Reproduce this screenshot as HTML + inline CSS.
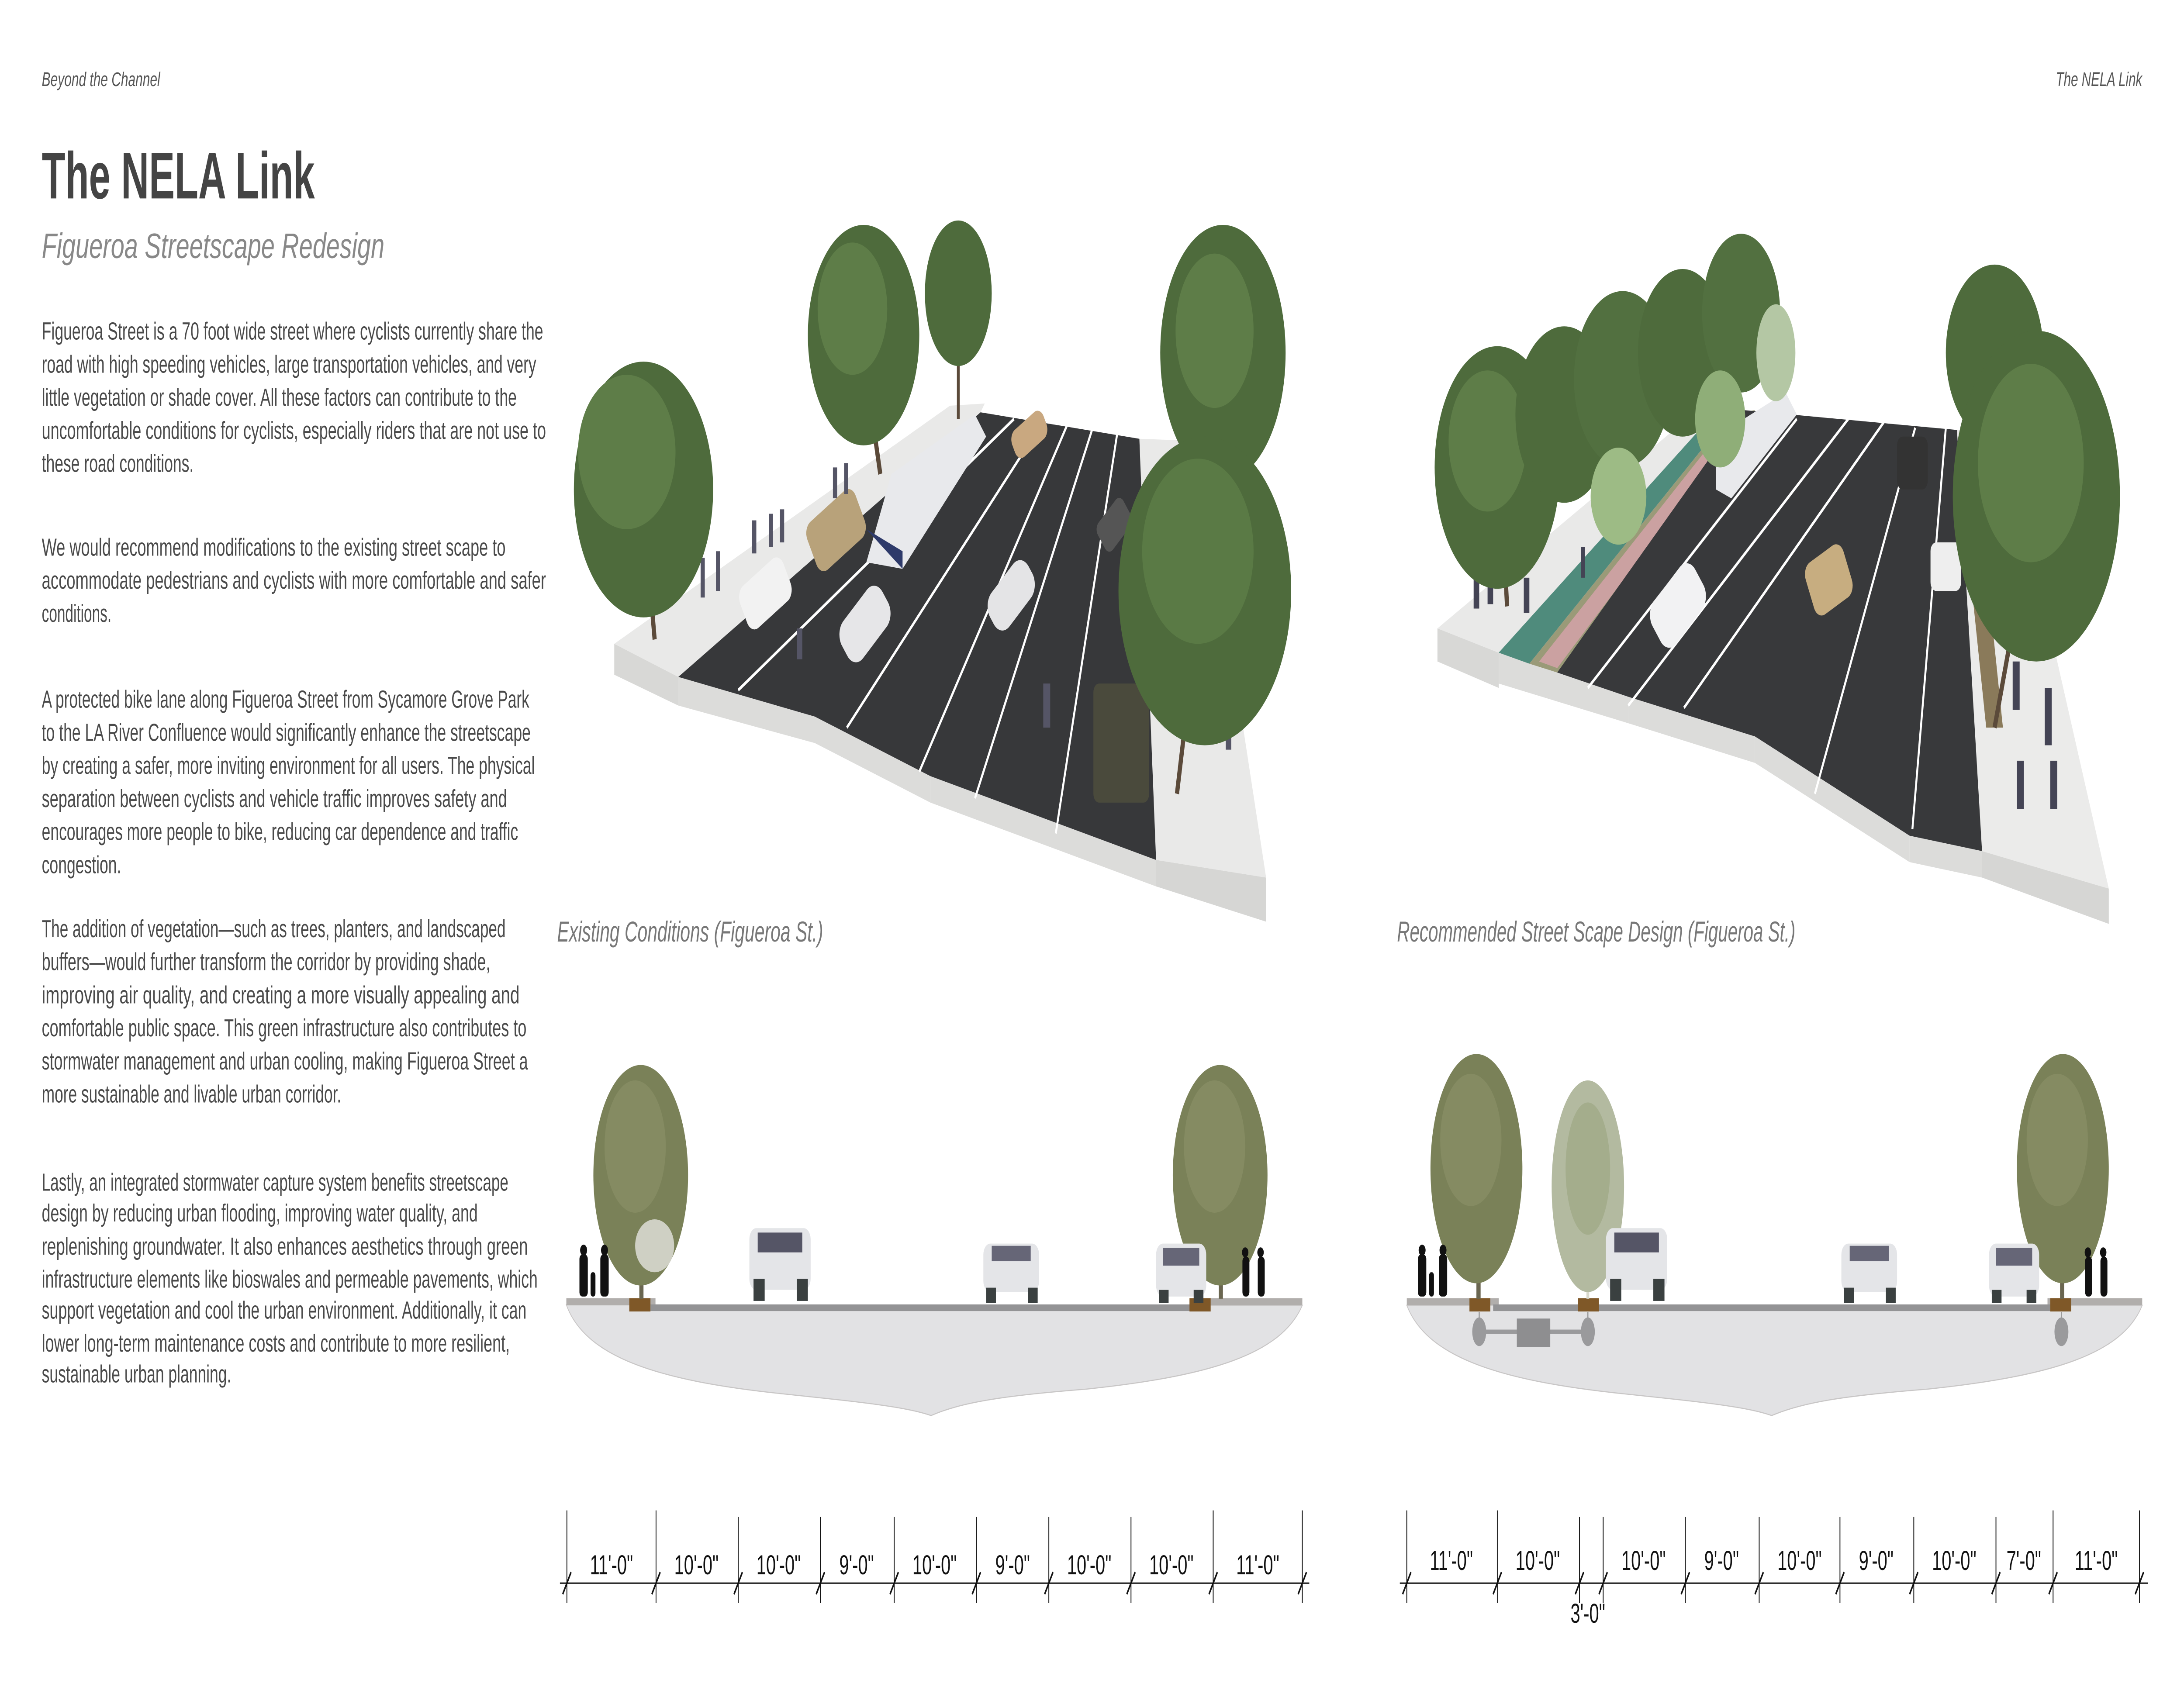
<!DOCTYPE html>
<html><head><meta charset="utf-8">
<style>
html,body{margin:0;padding:0;background:#fff;width:100vw;height:100vh;overflow:hidden;}
svg{display:block;width:100vw;height:100vh;}
.b{font-family:"Liberation Sans",sans-serif;font-size:11.2px;fill:#4a4a4a;}
.d{font-family:"Liberation Sans Narrow","Liberation Sans",sans-serif;font-size:12.5px;fill:#111;text-anchor:middle;}
</style></head><body>
<svg viewBox="0 0 1568 765.1" preserveAspectRatio="none" xmlns="http://www.w3.org/2000/svg">
<rect width="1568" height="766" fill="#fff"/>
<text x="30" y="39" font-family="Liberation Sans" font-style="italic" font-size="9" fill="#555" textLength="85" lengthAdjust="spacingAndGlyphs">Beyond the Channel</text>
<text x="1476" y="39" font-family="Liberation Sans" font-style="italic" font-size="9" fill="#555" textLength="62" lengthAdjust="spacingAndGlyphs">The NELA Link</text>
<text x="30" y="90" font-family="Liberation Sans" font-weight="bold" font-size="30" fill="#444" textLength="196" lengthAdjust="spacingAndGlyphs">The NELA Link</text>
<text x="30" y="117" font-family="Liberation Sans" font-style="italic" font-size="16" fill="#888" textLength="246" lengthAdjust="spacingAndGlyphs">Figueroa Streetscape Redesign</text>
<g class="b">
<text x="30" y="154" textLength="360" lengthAdjust="spacingAndGlyphs">Figueroa Street is a 70 foot wide street where cyclists currently share the</text>
<text x="30" y="169" textLength="355" lengthAdjust="spacingAndGlyphs">road with high speeding vehicles, large transportation vehicles, and very</text>
<text x="30" y="184" textLength="341" lengthAdjust="spacingAndGlyphs">little vegetation or shade cover. All these factors can contribute to the</text>
<text x="30" y="199" textLength="362" lengthAdjust="spacingAndGlyphs">uncomfortable conditions for cyclists, especially riders that are not use to</text>
<text x="30" y="214" textLength="109" lengthAdjust="spacingAndGlyphs">these road conditions.</text>
<text x="30" y="252" textLength="333" lengthAdjust="spacingAndGlyphs">We would recommend modifications to the existing street scape to</text>
<text x="30" y="267" textLength="362" lengthAdjust="spacingAndGlyphs">accommodate pedestrians and cyclists with more comfortable and safer</text>
<text x="30" y="282" textLength="50" lengthAdjust="spacingAndGlyphs">conditions.</text>
<text x="30" y="321" textLength="350" lengthAdjust="spacingAndGlyphs">A protected bike lane along Figueroa Street from Sycamore Grove Park</text>
<text x="30" y="336" textLength="351" lengthAdjust="spacingAndGlyphs">to the LA River Confluence would significantly enhance the streetscape</text>
<text x="30" y="351" textLength="354" lengthAdjust="spacingAndGlyphs">by creating a safer, more inviting environment for all users. The physical</text>
<text x="30" y="366" textLength="334" lengthAdjust="spacingAndGlyphs">separation between cyclists and vehicle traffic improves safety and</text>
<text x="30" y="381" textLength="342" lengthAdjust="spacingAndGlyphs">encourages more people to bike, reducing car dependence and traffic</text>
<text x="30" y="396" textLength="57" lengthAdjust="spacingAndGlyphs">congestion.</text>
<text x="30" y="425" textLength="333" lengthAdjust="spacingAndGlyphs">The addition of vegetation—such as trees, planters, and landscaped</text>
<text x="30" y="440" textLength="322" lengthAdjust="spacingAndGlyphs">buffers—would further transform the corridor by providing shade,</text>
<text x="30" y="455" textLength="343" lengthAdjust="spacingAndGlyphs">improving air quality, and creating a more visually appealing and</text>
<text x="30" y="470" textLength="348" lengthAdjust="spacingAndGlyphs">comfortable public space. This green infrastructure also contributes to</text>
<text x="30" y="485" textLength="349" lengthAdjust="spacingAndGlyphs">stormwater management and urban cooling, making Figueroa Street a</text>
<text x="30" y="500" textLength="215" lengthAdjust="spacingAndGlyphs">more sustainable and livable urban corridor.</text>
<text x="30" y="540" textLength="335" lengthAdjust="spacingAndGlyphs">Lastly, an integrated stormwater capture system benefits streetscape</text>
<text x="30" y="554" textLength="313" lengthAdjust="spacingAndGlyphs">design by reducing urban flooding, improving water quality, and</text>
<text x="30" y="569" textLength="349" lengthAdjust="spacingAndGlyphs">replenishing groundwater. It also enhances aesthetics through green</text>
<text x="30" y="584" textLength="356" lengthAdjust="spacingAndGlyphs">infrastructure elements like bioswales and permeable pavements, which</text>
<text x="30" y="598" textLength="348" lengthAdjust="spacingAndGlyphs">support vegetation and cool the urban environment. Additionally, it can</text>
<text x="30" y="613" textLength="336" lengthAdjust="spacingAndGlyphs">lower long-term maintenance costs and contribute to more resilient,</text>
<text x="30" y="627" textLength="136" lengthAdjust="spacingAndGlyphs">sustainable urban planning.</text>
</g>

<!-- ===== Existing axonometric ===== -->
<g>
<polygon points="441,292 487,307 487,320 441,306" fill="#d8d8d6"/>
<polygon points="487,307 585,325 585,337 487,320" fill="#dcdcda"/>
<polygon points="585,325 668,352 668,364 585,337" fill="#dcdcda"/>
<polygon points="668,352 830,390 830,402 668,364" fill="#dcdcda"/>
<polygon points="830,390 909,398 909,418 830,402" fill="#d6d6d4"/>
<polygon points="441,292 682,184 707,183 704,187 487,307" fill="#e9e9e8"/>
<polygon points="818,199 861,200 909,398 830,390" fill="#e9e9e8"/>
<polygon points="704,187 818,199 830,390 668,352 585,325 487,307" fill="#37383a"/>
<g stroke="#fff" stroke-width="1.4">
<line x1="728" y1="190" x2="530" y2="313"/>
<line x1="748" y1="192" x2="608" y2="330"/>
<line x1="766" y1="193" x2="660" y2="350"/>
<line x1="784" y1="195" x2="700" y2="362"/>
<line x1="802" y1="197" x2="758" y2="378"/>
</g>
<polygon points="640,215 700,188 708,198 648,258 622,255" fill="#e8e9ec"/>
<polygon points="622,240 648,258 648,250" fill="#2e3a6a"/>
<rect x="580" y="228" width="40" height="25" rx="6" fill="#b8a27a" transform="rotate(-30 600 240)"/>
<rect x="532" y="258" width="36" height="22" rx="6" fill="#f2f2f2" transform="rotate(-30 550 270)"/>
<rect x="602" y="272" width="38" height="22" rx="8" fill="#e6e6e8" transform="rotate(-40 621 283)"/>
<rect x="708" y="260" width="36" height="20" rx="8" fill="#e4e4e6" transform="rotate(-40 726 270)"/>
<rect x="726" y="190" width="26" height="14" rx="5" fill="#c9a880" transform="rotate(-30 739 197)"/>
<rect x="788" y="230" width="24" height="16" rx="4" fill="#555" transform="rotate(-40 800 238)"/>
<rect x="785" y="310" width="40" height="54" rx="4" fill="#4a4a3c"/>
<g fill="#556">
<rect x="503" y="253" width="3" height="18"/><rect x="514" y="250" width="3" height="18"/>
<rect x="540" y="236" width="3" height="15"/><rect x="552" y="233" width="3" height="15"/>
<rect x="560" y="231" width="3" height="15"/><rect x="598" y="212" width="3" height="14"/>
<rect x="606" y="210" width="3" height="14"/><rect x="572" y="285" width="4" height="14"/>
<rect x="749" y="310" width="5" height="20"/><rect x="880" y="320" width="4" height="20"/>
</g>
<g>
<line x1="470" y1="290" x2="462" y2="230" stroke="#5b4a3a" stroke-width="3"/>
<ellipse cx="462" cy="222" rx="50" ry="58" fill="#4e6b3c"/>
<ellipse cx="450" cy="205" rx="35" ry="35" fill="#5e7d48"/>
<line x1="632" y1="215" x2="622" y2="170" stroke="#5b4a3a" stroke-width="3"/>
<ellipse cx="620" cy="152" rx="40" ry="50" fill="#4e6b3c"/>
<ellipse cx="612" cy="140" rx="25" ry="30" fill="#5e7d48"/>
<line x1="688" y1="190" x2="688" y2="150" stroke="#5b4a3a" stroke-width="2"/>
<ellipse cx="688" cy="133" rx="24" ry="33" fill="#4e6b3c"/>
<ellipse cx="878" cy="160" rx="45" ry="58" fill="#4e6b3c"/>
<ellipse cx="872" cy="150" rx="28" ry="35" fill="#5e7d48"/>
<line x1="845" y1="360" x2="858" y2="290" stroke="#5b4a3a" stroke-width="3"/>
<ellipse cx="865" cy="268" rx="62" ry="70" fill="#4e6b3c"/>
<ellipse cx="860" cy="250" rx="40" ry="42" fill="#5a7a45"/>
</g>
</g>

<!-- ===== Recommended axonometric ===== -->
<g>
<polygon points="1032,285 1076,296 1076,312 1032,300" fill="#d8d8d6"/>
<polygon points="1076,296 1169,316 1169,328 1076,310" fill="#dcdcda"/>
<polygon points="1169,316 1260,334 1260,346 1169,328" fill="#dcdcda"/>
<polygon points="1260,334 1371,379 1371,391 1260,346" fill="#dcdcda"/>
<polygon points="1371,379 1423,386 1423,398 1371,391" fill="#dcdcda"/>
<polygon points="1423,386 1514,403 1514,419 1423,398" fill="#d6d6d4"/>
<polygon points="1032,285 1230,180 1245,182 1076,296" fill="#e9e9e8"/>
<polygon points="1076,296 1230,188 1242,188 1098,301" fill="#4f8b7c"/>
<polygon points="1098,301 1242,188 1260,186 1118,305" fill="#9a9a78"/>
<polygon points="1105,300 1230,200 1245,196 1118,303" fill="#d7a3ab" opacity="0.8"/>
<polygon points="1405,195 1440,197 1514,403 1423,386" fill="#ebebea"/>
<polygon points="1408,220 1420,220 1438,330 1426,330" fill="#8a7a5a"/>
<polygon points="1252,186 1405,195 1423,386 1371,379 1260,334 1169,316 1118,305" fill="#38393b"/>
<g stroke="#fff" stroke-width="1.4">
<line x1="1290" y1="190" x2="1140" y2="312"/>
<line x1="1327" y1="190" x2="1169" y2="320"/>
<line x1="1353" y1="191" x2="1209" y2="321"/>
<line x1="1375" y1="194" x2="1303" y2="360"/>
<line x1="1397" y1="194" x2="1373" y2="376"/>
</g>
<polygon points="1232,198 1282,178 1290,188 1243,226 1232,222" fill="#e8e9ec"/>
<rect x="1185" y="262" width="40" height="25" rx="8" fill="#f2f2f3" transform="rotate(-40 1205 275)"/>
<rect x="1298" y="250" width="30" height="26" rx="6" fill="#c7ad80" transform="rotate(-25 1313 263)"/>
<rect x="1362" y="198" width="22" height="24" rx="4" fill="#333"/>
<rect x="1386" y="246" width="22" height="22" rx="4" fill="#eee"/>
<g fill="#445">
<rect x="1058" y="258" width="4" height="18"/><rect x="1068" y="256" width="4" height="18"/>
<rect x="1094" y="262" width="4" height="16"/><rect x="1135" y="248" width="3" height="14"/>
<rect x="1448" y="345" width="5" height="22"/><rect x="1468" y="312" width="5" height="26"/>
<rect x="1472" y="345" width="5" height="22"/><rect x="1445" y="300" width="5" height="22"/>
</g>
<g>
<line x1="1082" y1="275" x2="1078" y2="225" stroke="#5b4a3a" stroke-width="3"/>
<ellipse cx="1075" cy="212" rx="45" ry="55" fill="#4e6b3c"/>
<ellipse cx="1068" cy="200" rx="28" ry="32" fill="#5e7d48"/>
<ellipse cx="1123" cy="188" rx="35" ry="40" fill="#4e6b3c"/>
<ellipse cx="1165" cy="172" rx="35" ry="40" fill="#527040"/>
<ellipse cx="1208" cy="160" rx="32" ry="38" fill="#4e6b3c"/>
<ellipse cx="1250" cy="142" rx="28" ry="36" fill="#527040"/>
<ellipse cx="1235" cy="190" rx="18" ry="22" fill="#8fae78"/>
<ellipse cx="1275" cy="160" rx="14" ry="22" fill="#b4c7a4"/>
<ellipse cx="1162" cy="225" rx="20" ry="22" fill="#9dbb85"/>
<ellipse cx="1432" cy="160" rx="35" ry="40" fill="#4e6b3c"/>
<line x1="1432" y1="330" x2="1452" y2="260" stroke="#5b4a3a" stroke-width="3"/>
<ellipse cx="1462" cy="225" rx="60" ry="75" fill="#4e6b3c"/>
<ellipse cx="1458" cy="210" rx="38" ry="45" fill="#5e7d48"/>
</g>
</g>

<text x="400" y="427" font-family="Liberation Sans" font-style="italic" font-size="13" fill="#777" textLength="191" lengthAdjust="spacingAndGlyphs">Existing Conditions (Figueroa St.)</text>
<text x="1003" y="427" font-family="Liberation Sans" font-style="italic" font-size="13" fill="#777" textLength="286" lengthAdjust="spacingAndGlyphs">Recommended Street Scape Design (Figueroa St.)</text>

<!-- ===== Section 1 ===== -->
<g>
<path d="M406.6,591.8 C420,615 470,626 560,632 C620,636 650,638 668.5,642 C690,636 720,633 780,630 C870,624 920,614 935,592 Z" fill="#e2e2e4" stroke="#c8c6c6" stroke-width="0.5"/>
<rect x="406.6" y="588.8" width="64" height="3" fill="#b1aeac"/>
<rect x="866" y="588.8" width="69" height="3" fill="#b1aeac"/>
<rect x="467" y="591.6" width="400" height="3" fill="#939395"/>
<rect x="451.8" y="588.8" width="15.2" height="6" fill="#7f5828"/>
<rect x="854" y="588.8" width="15.2" height="6" fill="#7f5828"/>
<rect x="459" y="540" width="3" height="49" fill="#6a6650"/>
<ellipse cx="460" cy="533" rx="34" ry="50" fill="#7a8158"/>
<ellipse cx="456" cy="520" rx="22" ry="30" fill="#858b62"/>
<ellipse cx="470" cy="565" rx="14" ry="12" fill="#cfd0c4"/>
<rect x="875" y="540" width="3" height="49" fill="#6a6650"/>
<ellipse cx="876" cy="533" rx="34" ry="50" fill="#7a8158"/>
<ellipse cx="872" cy="520" rx="22" ry="30" fill="#858b62"/>
<rect x="538" y="557" width="44" height="28" rx="5" fill="#e4e5e8"/><rect x="544" y="559" width="32" height="9" fill="#556"/><rect x="541" y="580" width="8" height="10" fill="#3a4040"/><rect x="572" y="580" width="8" height="10" fill="#3a4040"/>
<rect x="706" y="564" width="40" height="22" rx="5" fill="#e4e5e8"/><rect x="712" y="565" width="28" height="7" fill="#667"/><rect x="708" y="584" width="7" height="7" fill="#3a4040"/><rect x="738" y="584" width="7" height="7" fill="#3a4040"/>
<rect x="830" y="564" width="36" height="24" rx="5" fill="#e4e5e8"/><rect x="835" y="566" width="26" height="8" fill="#667"/><rect x="832" y="585" width="7" height="6" fill="#3a4040"/><rect x="857" y="585" width="7" height="6" fill="#3a4040"/>
<g fill="#111">
<rect x="416" y="569" width="6" height="19" rx="2"/><circle cx="419" cy="567" r="2.5"/>
<rect x="424" y="577" width="3.5" height="11" rx="1.5"/>
<rect x="431" y="569" width="6" height="19" rx="2"/><circle cx="434" cy="567" r="2.5"/>
<rect x="892" y="570" width="5" height="18" rx="2"/><circle cx="894" cy="568" r="2.3"/>
<rect x="903" y="570" width="5" height="18" rx="2"/><circle cx="905" cy="568" r="2.3"/>
</g>
</g>

<!-- ===== Section 2 ===== -->
<g>
<path d="M1010,592 C1024,615 1074,626 1164,632 C1224,636 1254,638 1272,642 C1294,636 1324,633 1384,630 C1474,624 1524,614 1538,592 Z" fill="#e2e2e4" stroke="#c8c6c6" stroke-width="0.5"/>
<rect x="1010" y="588.8" width="66" height="3" fill="#b1aeac"/>
<rect x="1470" y="588.8" width="68" height="3" fill="#b1aeac"/>
<rect x="1072" y="591.6" width="400" height="3" fill="#939395"/>
<rect x="1055" y="588.8" width="15" height="6" fill="#7f5828"/>
<rect x="1133" y="588.8" width="15" height="6" fill="#7f5828"/>
<rect x="1472" y="588.8" width="15" height="6" fill="#7f5828"/>
<line x1="1062" y1="595" x2="1062" y2="600" stroke="#999" stroke-width="0.8"/>
<line x1="1140" y1="595" x2="1140" y2="600" stroke="#999" stroke-width="0.8"/>
<line x1="1480" y1="595" x2="1480" y2="600" stroke="#999" stroke-width="0.8"/>
<rect x="1062" y="603" width="78" height="2" fill="#9a9a9c"/>
<ellipse cx="1062" cy="604" rx="5" ry="6.5" fill="#9a9a9c"/>
<ellipse cx="1140" cy="604" rx="5" ry="6.5" fill="#9a9a9c"/>
<rect x="1089" y="598" width="24" height="13" fill="#8e8e90"/>
<ellipse cx="1480" cy="604" rx="5" ry="6.5" fill="#9a9a9c"/>
<rect x="1060" y="540" width="3" height="49" fill="#6a6650"/>
<ellipse cx="1060" cy="530" rx="33" ry="52" fill="#7a8158"/>
<ellipse cx="1056" cy="517" rx="22" ry="30" fill="#858b62"/>
<rect x="1139" y="550" width="2" height="39" fill="#d8d8cc"/>
<ellipse cx="1140" cy="538" rx="26" ry="48" fill="#b3baa0"/>
<ellipse cx="1140" cy="530" rx="16" ry="30" fill="#a4ad8c"/>
<rect x="1479" y="540" width="3" height="49" fill="#6a6650"/>
<ellipse cx="1481" cy="530" rx="33" ry="52" fill="#7a8158"/>
<ellipse cx="1477" cy="517" rx="22" ry="30" fill="#858b62"/>
<rect x="1153" y="557" width="44" height="28" rx="5" fill="#e4e5e8"/><rect x="1159" y="559" width="32" height="9" fill="#556"/><rect x="1156" y="580" width="8" height="10" fill="#3a4040"/><rect x="1187" y="580" width="8" height="10" fill="#3a4040"/>
<rect x="1322" y="564" width="40" height="22" rx="5" fill="#e4e5e8"/><rect x="1328" y="565" width="28" height="7" fill="#667"/><rect x="1324" y="584" width="7" height="7" fill="#3a4040"/><rect x="1354" y="584" width="7" height="7" fill="#3a4040"/>
<rect x="1428" y="564" width="36" height="24" rx="5" fill="#e4e5e8"/><rect x="1433" y="566" width="26" height="8" fill="#667"/><rect x="1430" y="585" width="7" height="6" fill="#3a4040"/><rect x="1455" y="585" width="7" height="6" fill="#3a4040"/>
<g fill="#111">
<rect x="1018" y="569" width="6" height="19" rx="2"/><circle cx="1021" cy="567" r="2.5"/>
<rect x="1026" y="577" width="3.5" height="11" rx="1.5"/>
<rect x="1033" y="569" width="6" height="19" rx="2"/><circle cx="1036" cy="567" r="2.5"/>
<rect x="1497" y="570" width="5" height="18" rx="2"/><circle cx="1499" cy="568" r="2.3"/>
<rect x="1508" y="570" width="5" height="18" rx="2"/><circle cx="1510" cy="568" r="2.3"/>
</g>
</g>

<!-- ===== Dimension lines ===== -->
<g stroke="#111" stroke-width="0.6">
<line x1="402" y1="718" x2="940" y2="718"/>
<line x1="407" y1="685" x2="407" y2="727"/><line x1="471" y1="685" x2="471" y2="727"/>
<line x1="530" y1="688" x2="530" y2="727"/><line x1="589" y1="688" x2="589" y2="727"/>
<line x1="642" y1="688" x2="642" y2="727"/><line x1="701" y1="688" x2="701" y2="727"/>
<line x1="753" y1="688" x2="753" y2="727"/><line x1="812" y1="688" x2="812" y2="727"/>
<line x1="871" y1="685" x2="871" y2="727"/><line x1="935" y1="685" x2="935" y2="727"/>
<line x1="1005" y1="718" x2="1542" y2="718"/>
<line x1="1010" y1="685" x2="1010" y2="727"/><line x1="1075" y1="685" x2="1075" y2="727"/>
<line x1="1134" y1="688" x2="1134" y2="727"/><line x1="1151" y1="688" x2="1151" y2="727"/>
<line x1="1210" y1="688" x2="1210" y2="727"/><line x1="1263" y1="688" x2="1263" y2="727"/>
<line x1="1321" y1="688" x2="1321" y2="727"/><line x1="1374" y1="688" x2="1374" y2="727"/>
<line x1="1433" y1="688" x2="1433" y2="727"/><line x1="1474" y1="685" x2="1474" y2="727"/>
<line x1="1536" y1="685" x2="1536" y2="727"/>
</g>
<g stroke="#111" stroke-width="1">
<path d="M404,723 L410,713 M468,723 L474,713 M527,723 L533,713 M586,723 L592,713 M639,723 L645,713 M698,723 L704,713 M750,723 L756,713 M809,723 L815,713 M868,723 L874,713 M932,723 L938,713"/>
<path d="M1007,723 L1013,713 M1072,723 L1078,713 M1131,723 L1137,713 M1148,723 L1154,713 M1207,723 L1213,713 M1260,723 L1266,713 M1318,723 L1324,713 M1371,723 L1377,713 M1430,723 L1436,713 M1471,723 L1477,713 M1533,723 L1539,713"/>
</g>
<g class="d">
<text x="439" y="714">11'-0"</text><text x="500" y="714">10'-0"</text><text x="559" y="714">10'-0"</text>
<text x="615" y="714">9'-0"</text><text x="671" y="714">10'-0"</text><text x="727" y="714">9'-0"</text>
<text x="782" y="714">10'-0"</text><text x="841" y="714">10'-0"</text><text x="903" y="714">11'-0"</text>
<text x="1042" y="712">11'-0"</text><text x="1104" y="712">10'-0"</text><text x="1180" y="712">10'-0"</text>
<text x="1236" y="712">9'-0"</text><text x="1292" y="712">10'-0"</text><text x="1347" y="712">9'-0"</text>
<text x="1403" y="712">10'-0"</text><text x="1453" y="712">7'-0"</text><text x="1505" y="712">11'-0"</text>
<text x="1140" y="736">3'-0"</text>
</g>
</svg>
</body></html>
